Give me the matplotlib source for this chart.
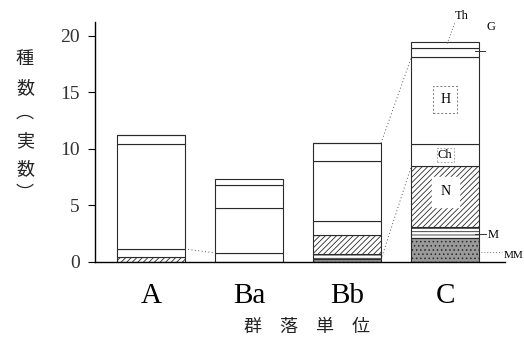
import numpy as np
import matplotlib.pyplot as plt

plt.rcParams['font.family'] = ['Liberation Serif', 'Noto Sans CJK JP', 'DejaVu Sans']
plt.rcParams['hatch.linewidth'] = 0.6

units = ["A", "Ba", "Bb", "C"]
# stacked life-form groups, bottom to top
layers = ["MM", "M", "N", "Ch", "H", "G", "Th"]
MM = [0.0, 0.0, 0.3, 2.1]
M = [0.0, 0.0, 0.4, 1.0]
N = [0.4, 0.0, 1.7, 5.4]
Ch = [0.75, 0.8, 1.2, 1.9]
H = [9.25, 4.0, 5.3, 7.7]
G = [0.8, 2.0, 1.6, 0.8]
Th = [0.0, 0.5, 0.0, 0.5]
yticks = [0, 5, 10, 15, 20]

series = [MM, M, N, Ch, H, G, Th]
styles = {
    "MM": dict(facecolor="#9a9a9a", hatch="...."),
    "M": dict(facecolor="white", hatch="-----"),
    "N": dict(facecolor="white", hatch="//////"),
    "Ch": dict(facecolor="white", hatch=None),
    "H": dict(facecolor="white", hatch=None),
    "G": dict(facecolor="white", hatch=None),
    "Th": dict(facecolor="white", hatch=None),
}

fig = plt.figure(figsize=(5.24, 3.55), dpi=100)
ax = fig.add_axes([0.181, 0.262, 0.783, 0.676])

x = np.arange(len(units))
width = 0.69
bottom = np.zeros(len(units))
tops = {}
for name, vals in zip(layers, series):
    vals = np.array(vals)
    st = styles[name]
    ax.bar(x, vals, width, bottom=bottom, facecolor=st["facecolor"],
           hatch=st["hatch"], edgecolor="#2a2a2a", linewidth=0.8)
    bottom = bottom + vals
    tops[name] = bottom.copy()

# dotted links between neighbouring units
lk = dict(color="#555555", linestyle=(0, (1, 2.5)), linewidth=0.7)
ax.plot([x[0] + width / 2, x[1] - width / 2], [tops["Ch"][0], tops["Ch"][1]], **lk)
ax.plot([x[2] + width / 2, x[3] - width / 2], [tops["G"][2], tops["H"][3]], **lk)
ax.plot([x[2] + width / 2, x[3] - width / 2], [0.2, tops["N"][3]], **lk)

# labels inside bar C
ax.text(x[3], (tops["Ch"][3] + tops["H"][3]) / 2 + 0.1, "H", ha="center", va="center",
        fontsize=10, bbox=dict(boxstyle="square,pad=0.5", fc="white", ec="#777777",
                               ls=(0, (2, 2)), lw=0.7))
ax.text(x[3], (tops["N"][3] + tops["Ch"][3]) / 2, "Ch", ha="center", va="center",
        fontsize=9, bbox=dict(boxstyle="square,pad=0.1", fc="white", ec="#999999",
                              ls=(0, (2, 2)), lw=0.6))
ax.text(x[3], (tops["M"][3] + tops["N"][3]) / 2 + 0.4, "N", ha="center", va="center",
        fontsize=10, bbox=dict(boxstyle="square,pad=0.6", fc="white", ec="white"))

# labels outside bar C
ax.text(x[3] + 0.1, 21.7, "Th", fontsize=9, ha="left", va="center", clip_on=False)
ax.plot([x[3] + 0.02, x[3] + 0.1], [tops["Th"][3] - 0.1, 21.2], color="#666666",
        linestyle=(0, (1, 2)), linewidth=0.7, clip_on=False)
ax.text(x[3] + 0.42, 20.8, "G", fontsize=9, ha="left", va="center", clip_on=False)
ax.plot([x[3] + 0.3, x[3] + 0.4], [18.6, 18.6], color="#333333", linewidth=0.7,
        clip_on=False)
ax.text(x[3] + 0.43, 2.4, "M", fontsize=9, ha="left", va="center", clip_on=False)
ax.plot([x[3] + 0.3, x[3] + 0.42], [2.5, 2.5], color="#333333", linewidth=0.7,
        clip_on=False)
ax.text(x[3] + 0.6, 0.6, "MM", fontsize=8, ha="left", va="center", clip_on=False)
ax.plot([x[3] + 0.36, x[3] + 0.58], [0.9, 0.9], color="#777777",
        linestyle=(0, (1, 2)), linewidth=0.7, clip_on=False)

ax.set_xlim(-0.571, 3.61)
ax.set_ylim(0, 21.2)
ax.set_yticks(yticks)
ax.set_yticklabels([str(v) for v in yticks], fontsize=14, color="#333333")
ax.set_xticks(x)
ax.set_xticklabels(units, fontsize=21)
ax.tick_params(axis="x", length=0, pad=15)
ax.tick_params(axis="y", length=5, width=0.8, pad=6)
for side in ["top", "right"]:
    ax.spines[side].set_visible(False)
ax.spines["left"].set_linewidth(1.0)
ax.spines["bottom"].set_linewidth(1.0)

# vertical axis title, one character per line
ylab = ["種", "数", "︵", "実", "数", "︶"]
ylab_y = [59, 88, 113, 141, 169, 194]
for ch, py in zip(ylab, ylab_y):
    fig.text(25 / 524, 1 - py / 355, ch, fontsize=13, ha="center", va="center",
             family=["Noto Sans CJK JP"], color="#222222")
fig.text(0.585, 0.08, "群　落　単　位", fontsize=13, ha="center", va="center",
         family=["Noto Sans CJK JP"], color="#222222")

fig.savefig("out.png", dpi=100)
